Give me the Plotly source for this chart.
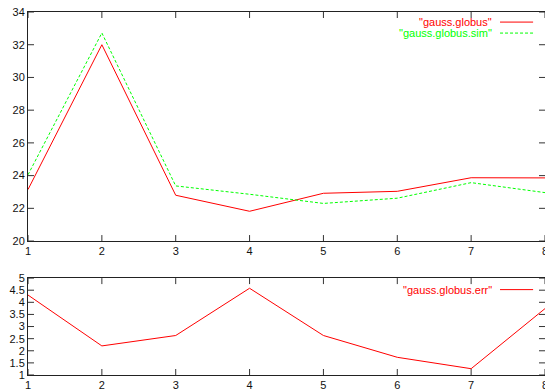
import plotly.graph_objects as go

x = [1, 2, 3, 4, 5, 6, 7, 8]
globus = [23.15, 32.0, 22.8, 21.82, 22.92, 23.04, 23.87, 23.86]
globus_sim = [24.05, 32.72, 23.37, 22.86, 22.3, 22.62, 23.57, 22.96]
globus_err = [4.3, 2.2, 2.63, 4.58, 2.63, 1.73, 1.26, 3.74]

top_yticks = [20, 22, 24, 26, 28, 30, 32, 34]
bot_yticks = [1, 1.5, 2, 2.5, 3, 3.5, 4, 4.5, 5]
bot_ytext = ["1", "1.5", "2", "2.5", "3", "3.5", "4", "4.5", "5"]

RED = "#ff0000"
GREEN = "#00ff00"
FONT = "Liberation Sans, Arial, sans-serif"
TICK = "#333333"

fig = go.Figure()
fig.add_trace(go.Scatter(x=x, y=globus, mode="lines", line=dict(color=RED, width=1),
                         xaxis="x", yaxis="y", showlegend=False))
fig.add_trace(go.Scatter(x=x, y=globus_sim, mode="lines", line=dict(color=GREEN, width=1, dash="3px,2px"),
                         xaxis="x", yaxis="y", showlegend=False))
fig.add_trace(go.Scatter(x=x, y=globus_err, mode="lines", line=dict(color=RED, width=1),
                         xaxis="x2", yaxis="y2", showlegend=False))

axis_common = dict(showgrid=False, zeroline=False, showline=True, linecolor="#222222", linewidth=1,
                   mirror=True, ticks="", automargin=False, ticklabeloverflow="allow",
                   tickfont=dict(family=FONT, size=11, color="#111111"))

fig.update_layout(
    width=545, height=392,
    margin=dict(l=28, r=0, t=12, b=17),
    paper_bgcolor="white", plot_bgcolor="white",
    font=dict(family=FONT, size=11),
    xaxis=dict(domain=[0, 1], anchor="y", range=[1, 8], tickvals=x, **axis_common),
    yaxis=dict(domain=[0.369, 1], anchor="x", range=[20, 34], tickvals=top_yticks, **axis_common),
    xaxis2=dict(domain=[0, 1], anchor="y2", range=[1, 8], tickvals=x, **axis_common),
    yaxis2=dict(domain=[0, 0.267], anchor="x2", range=[1, 5], tickvals=bot_yticks, ticktext=bot_ytext,
                **axis_common),
)

# gnuplot-style inward tick marks on all four sides, placed from the tick arrays
def add_ticks(xr, yr, xt, yt):
    for v in xt:
        for anchor, sign in ((0, 1), (1, -1)):
            fig.add_shape(type="line", xref=xr, yref=yr + " domain", ysizemode="pixel", yanchor=anchor,
                          x0=v, x1=v, y0=0, y1=6 * sign, line=dict(color=TICK, width=1), layer="above")
    for v in yt:
        for anchor, sign in ((0, 1), (1, -1)):
            fig.add_shape(type="line", xref=xr + " domain", yref=yr, xsizemode="pixel", xanchor=anchor,
                          x0=0, x1=6 * sign, y0=v, y1=v, line=dict(color=TICK, width=1), layer="above")

add_ticks("x", "y", x, top_yticks)
add_ticks("x2", "y2", x, bot_yticks)

# gnuplot-style key: text right aligned, line sample to the right
keys = [
    ('"gauss.globus"', RED, "solid", "x domain", "y domain", 0.956),
    ('"gauss.globus.sim"', GREEN, "3px,2px", "x domain", "y domain", 0.908),
    ('"gauss.globus.err"', RED, "solid", "x2 domain", "y2 domain", 0.881),
]
for label, color, dash, xr, yr, yy in keys:
    fig.add_annotation(text=label, xref=xr, yref=yr, x=0.902, y=yy, xanchor="right", yanchor="middle",
                       showarrow=False, font=dict(family=FONT, size=11, color=color))
    fig.add_shape(type="line", xref=xr, yref=yr, x0=0.913, x1=0.977, y0=yy, y1=yy,
                  line=dict(color=color, width=1, dash=dash))

fig.write_html("out.html", config={"displayModeBar": False},
               post_script="document.body.style.margin='0';document.body.style.overflow='hidden';")
